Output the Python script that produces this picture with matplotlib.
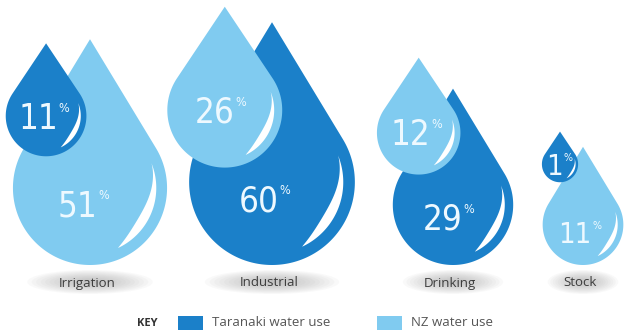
import numpy as np
import matplotlib
matplotlib.use("Agg")
import matplotlib.pyplot as plt
from matplotlib.patches import Polygon, Ellipse, Rectangle

# Share of water use by sector (%)
categories = ["Irrigation", "Industrial", "Drinking", "Stock"]
taranaki_use = [11, 60, 29, 1]
nz_use = [51, 26, 12, 11]
series_names = ["Taranaki water use", "NZ water use"]

TARANAKI_BLUE = "#1b80c9"
NZ_BLUE = "#80cbf0"
NUMBER_WHITE = "#eef9ff"
LABEL_GREY = "#3c3c3c"
NUM_FONT = ["DejaVu Sans"]
TXT_FONT = ["Open Sans", "DejaVu Sans"]

W, H = 624, 333
fig = plt.figure(figsize=(W / 100, H / 100), dpi=100)
ax = fig.add_axes([0, 0, 1, 1])
ax.set_xlim(0, W)
ax.set_ylim(H, 0)
ax.set_aspect("equal")
ax.axis("off")

# layout (pixel units, y grows downward)
group_x = [90, 272, 453, 583]
number_size = [25, 25, 25, 21]
baseline = 265
label_y = 283


def radius(v):
    """Drop radius scale: grows with the square root of the share."""
    return 8.5 + 9.6 * np.sqrt(v)


def drop_outline(cx, cy, r, h, n=160):
    a = np.arccos(r / h)
    th = np.linspace(np.pi / 2 + a, 2.5 * np.pi - a, n)
    xs = np.concatenate([[cx], cx + r * np.cos(th)])
    ys = np.concatenate([[cy - h], cy - r * np.sin(th)])
    return np.column_stack([xs, ys])


def crescent(cx, cy, r, n=80):
    t = np.linspace(0, 1, n)
    th = np.radians(22) + t * np.radians(-87)
    outer = 0.86 * r
    inner = outer - 0.12 * r * np.sin(np.pi * t ** 1.35) ** 0.9
    ox, oy = cx + outer * np.cos(th), cy - outer * np.sin(th)
    ix, iy = cx + inner[::-1] * np.cos(th[::-1]), cy - inner[::-1] * np.sin(th[::-1])
    return np.column_stack([np.concatenate([ox, ix]), np.concatenate([oy, iy])])


def draw_drop(cx, cy, r, h, value, color, size, text_dy, z):
    ax.add_patch(Polygon(drop_outline(cx, cy, r, h), closed=True,
                         facecolor=color, edgecolor="none", zorder=z))
    ax.add_patch(Polygon(crescent(cx, cy, r), closed=True,
                         facecolor="white", edgecolor="none", zorder=z + 0.1))
    cap = size * 100 / 72 * 0.73
    t = ax.text(cx - 0.12 * r - 3, cy + text_dy + cap / 2, f"{value}",
                ha="center", va="baseline", fontsize=size, color=NUMBER_WHITE,
                family=NUM_FONT, fontstretch="condensed", zorder=z + 0.2)
    ax.annotate("%", xy=(1, 1), xycoords=t, xytext=(0.3, 0),
                textcoords="offset points", ha="left", va="top",
                fontsize=size * 0.36, color=NUMBER_WHITE, family=NUM_FONT,
                fontstretch="condensed", zorder=z + 0.2)


for i, cat in enumerate(categories):
    vals = [taranaki_use[i], nz_use[i]]
    cols = [TARANAKI_BLUE, NZ_BLUE]
    back = int(np.argmax(vals))
    front = 1 - back
    R = radius(vals[back])
    r = radius(vals[front])
    cxb = group_x[i]
    cyb = baseline - R
    cxf = cxb - 0.57 * R
    cyf = cyb - min(72, 1.5 * R)

    # soft shadow under the category name
    sw, sh = 1.5 * R + 10, 24
    for k in range(14):
        f = 1 - k / 14
        ax.add_patch(Ellipse((cxb, label_y - 1), sw * f, sh * f,
                             facecolor="#9a9a9a", edgecolor="none",
                             alpha=0.055, zorder=1))
    ax.text(cxb - 3, label_y, cat, ha="center", va="center", fontsize=9.5,
            color=LABEL_GREY, family=TXT_FONT, zorder=2)

    draw_drop(cxb, cyb, R, 1.93 * R, vals[back], cols[back],
              number_size[i], 0.2 * R, 3)
    draw_drop(cxf, cyf, r, 1.8 * r, vals[front], cols[front],
              number_size[i], 0, 5)

# key
ax.text(147, 323, "KEY", ha="center", va="center", fontsize=8,
        fontweight="bold", color="#333333", family=TXT_FONT)
for name, col, x0 in zip(series_names, [TARANAKI_BLUE, NZ_BLUE], [178, 377]):
    ax.add_patch(Rectangle((x0, 316), 25, 14, facecolor=col, edgecolor="none"))
    ax.text(x0 + 34, 323, name, ha="left", va="center", fontsize=9.5,
            color="#555555", family=TXT_FONT)

fig.savefig("out.png", dpi=100, facecolor="white")
